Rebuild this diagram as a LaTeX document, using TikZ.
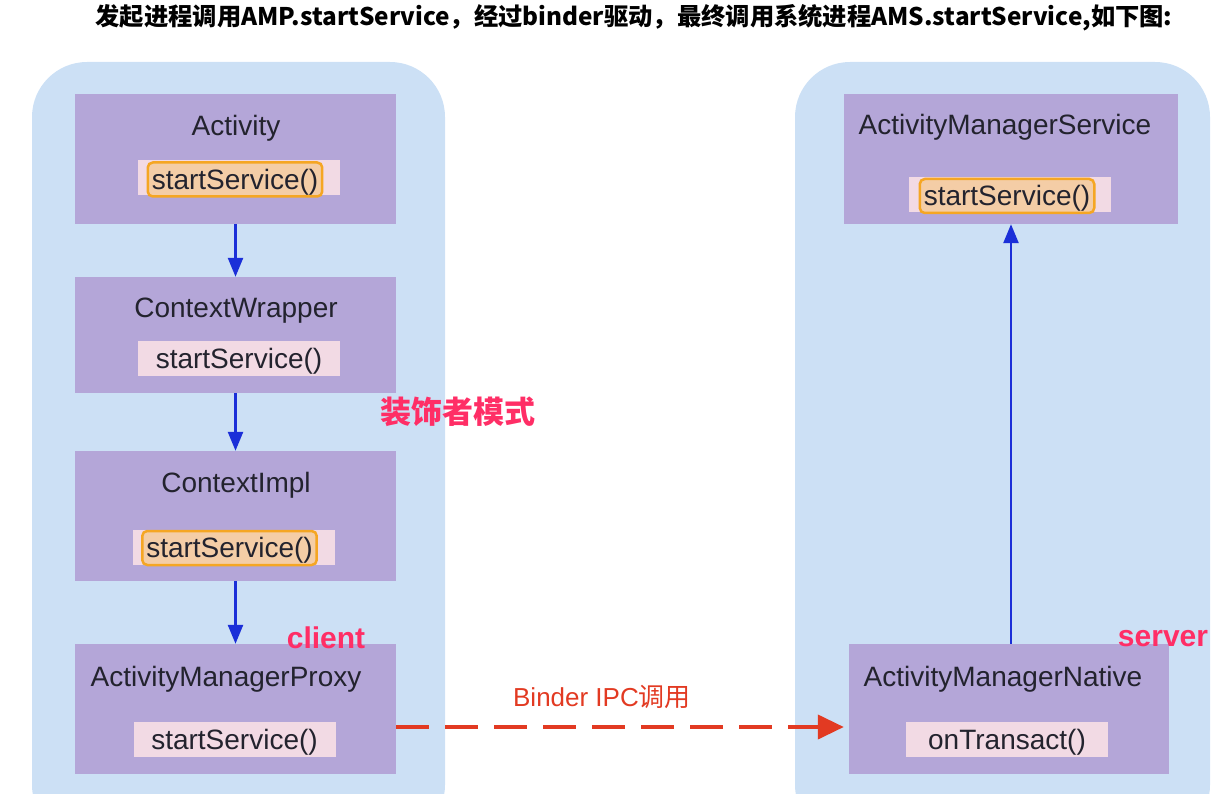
\documentclass[tikz,border=0pt]{standalone}
\usepackage{fontspec}
\setmainfont{Liberation Sans}
\newfontfamily\cjk{Noto Sans CJK SC}
\usetikzlibrary{arrows.meta}
\definecolor{panelblue}{HTML}{CCE0F5}
\definecolor{clspurple}{HTML}{B4A6D8}
\definecolor{methpink}{HTML}{F2DAE4}
\definecolor{hlorange}{HTML}{F5A623}
\definecolor{hlpeach}{HTML}{F4CDA6}
\definecolor{inkgray}{HTML}{23232E}
\definecolor{callblue}{HTML}{1B2FD8}
\definecolor{ipcred}{HTML}{E23A22}
\definecolor{tagpink}{HTML}{FF2E66}

\begin{document}
\begin{tikzpicture}[x=1pt, y=-1pt,
    panel/.style={fill=panelblue, rounded corners=55pt},
    cls/.style={fill=clspurple, minimum height=130pt, inner sep=0pt},
    clsname/.style={text=inkgray, text depth=1pt, font=\fontsize{28}{30}\selectfont},
    meth/.style={fill=methpink, minimum width=202pt, minimum height=35pt, inner sep=0pt, text depth=1pt, text=inkgray, font=\fontsize{28}{30}\selectfont},
    hl/.style={draw=hlorange, line width=2.5pt, fill=hlpeach, rounded corners=5pt, minimum height=34pt, inner xsep=4pt, inner ysep=0pt, text depth=1pt, text=inkgray, font=\fontsize{28}{30}\selectfont},
    call/.style={draw=callblue, line width=2.5pt, -{Triangle[length=19pt,width=15pt]}},
    ipc/.style={draw=ipcred, line width=4pt, dash pattern=on 33pt off 16pt, -{Triangle[length=26pt,width=24pt]}},
    tag/.style={text=tagpink, font=\fontsize{30}{32}\selectfont\bfseries}]
  \useasboundingbox (0,0) rectangle (1228,794);
  \clip (0,0) rectangle (1228,794);

  \node[font=\cjk\bfseries\fontsize{24.3}{26}\selectfont] (head) at (634,18) {发起进程调用AMP.startService，经过binder驱动，最终调用系统进程AMS.startService,如下图:};

  % client and server sides
  \path[panel] (32,62) rectangle (445,840);
  \path[panel] (795,62) rectangle (1210,840);

  % client side
  \node[cls, minimum width=321pt] (act) at (235.5,159) {};
  \node[clsname] (actn) at (236,126) {Activity};
  \node[meth] (actm) at (239,177.5) {};
  \node[hl] (acth) at (235,179.5) {startService()};

  \node[cls, minimum width=321pt, minimum height=116pt] (cw) at (235.5,335) {};
  \node[clsname] (cwn) at (236,308) {ContextWrapper};
  \node[meth] (cwm) at (239,358.5) {startService()};

  \node[cls, minimum width=321pt] (ci) at (235.5,516) {};
  \node[clsname] (cin) at (236,483) {ContextImpl};
  \node[meth] (cim) at (234,547.5) {};
  \node[hl] (cih) at (229.5,548) {startService()};

  \node[cls, minimum width=321pt] (amp) at (235.5,709) {};
  \node[clsname] (ampn) at (226,677) {ActivityManagerProxy};
  \node[meth] (ampm) at (234.5,739.5) {startService()};

  % server side
  \node[cls, minimum width=334pt] (ams) at (1011,159) {};
  \node[clsname] (amsn) at (1005,125) {ActivityManagerService};
  \node[meth] (amsm) at (1010,194.5) {};
  \node[hl] (amsh) at (1007,196) {startService()};

  \node[cls, minimum width=320pt] (amn) at (1009,709) {};
  \node[clsname] (amnn) at (1003,677) {ActivityManagerNative};
  \node[meth] (amnm) at (1007,739.5) {onTransact()};

  \draw[call] (act.south) -- (cw.north);
  \draw[call] (cw.south) -- (ci.north);
  \draw[call] (ci.south) -- (amp.north);
  \draw[call] ([xshift=2pt]amn.north) -- ([xshift=2pt]amn.north |- ams.south);

  \draw[ipc] ([yshift=-18pt]amp.east) -- ([yshift=-18pt,xshift=-5pt]amn.west);
  \node[text=ipcred, font=\fontsize{26}{28}\selectfont] (ipcl) at (602,697) {Binder IPC{\cjk 调用}};

  \node[tag, font=\cjk\bfseries\fontsize{31}{33}\selectfont] (deco) at (458,412) {装饰者模式};
  \node[tag] (cli) at (326,638) {client};
  \node[tag] (srv) at (1163,639) {server};
\end{tikzpicture}
\end{document}
